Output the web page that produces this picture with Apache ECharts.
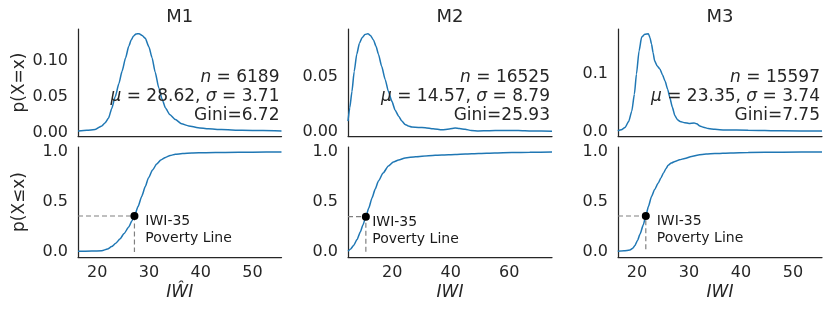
<!DOCTYPE html>
<html><head><meta charset="utf-8">
<script src="https://cdn.jsdelivr.net/npm/echarts@6/dist/echarts.min.js"></script>
<style>html,body{margin:0;padding:0;background:#fff}#c{width:830px;height:315px}</style>
</head><body><div id="c"></div>
<script>
// ---------- data ----------
const modelNames = ['M1', 'M2', 'M3'];
const xAxisNames = ['I\u0174I', 'IWI', 'IWI'];
const nValues = ['6189', '16525', '15597'];
const muValues = ['28.62', '14.57', '23.35'];
const sigmaValues = ['3.71', '8.79', '3.74'];
const giniValues = ['6.72', '25.93', '7.75'];

const m1PdfX = [16.3, 18, 19.6, 20.9, 21.5, 22.2, 22.8, 23.5, 24.2, 24.8, 25.5, 26.1, 26.6, 27.0, 27.5, 28.1, 28.7, 29.3, 30.0, 30.6, 31.2, 31.9, 32.5, 33.2, 34.0, 35.1, 36.3, 37.7, 39.5, 41.5, 44, 48, 52, 55.6];
const m1PdfY = [0.002, 0.003, 0.004, 0.009, 0.013, 0.020, 0.033, 0.050, 0.068, 0.085, 0.104, 0.120, 0.129, 0.134, 0.137, 0.1375, 0.135, 0.131, 0.119, 0.104, 0.084, 0.062, 0.047, 0.034, 0.025, 0.018, 0.012, 0.009, 0.0065, 0.005, 0.004, 0.003, 0.0025, 0.002];
const m1CdfX = [16.3, 19, 20.9, 22, 22.8, 23.6, 24.4, 25.2, 26.1, 26.7, 27.2, 27.9, 28.6, 29.3, 29.9, 30.7, 31.5, 32.3, 33.2, 34.1, 35.1, 36.5, 38.3, 41, 44.7, 50, 55.6];
const m1CdfY = [0.007, 0.009, 0.013, 0.03, 0.054, 0.088, 0.13, 0.185, 0.25, 0.31, 0.36, 0.455, 0.556, 0.655, 0.74, 0.82, 0.88, 0.92, 0.946, 0.965, 0.977, 0.985, 0.99, 0.993, 0.995, 0.998, 1.0];

const m2PdfX = [4.9, 5.5, 6.25, 7.0, 7.9, 8.8, 9.7, 10.7, 11.7, 12.6, 13.6, 14.5, 15.3, 16.4, 17.6, 18.7, 19.9, 21, 22.2, 23.3, 24.4, 25.5, 26.7, 29, 31.3, 34, 37, 39.5, 41.5, 43, 44.9, 47, 49.5, 53, 57.4, 63.1, 67.6, 74.6];
const m2PdfY = [0.010, 0.022, 0.037, 0.055, 0.071, 0.081, 0.086, 0.089, 0.0897, 0.088, 0.084, 0.078, 0.071, 0.060, 0.048, 0.037, 0.028, 0.020, 0.0145, 0.010, 0.007, 0.0055, 0.0045, 0.0042, 0.004, 0.003, 0.002, 0.0028, 0.0036, 0.0032, 0.0025, 0.0015, 0.001, 0.0012, 0.0015, 0.0015, 0.001, 0.0008];
const m2CdfX = [4.9, 5.8, 6.8, 8.0, 9.1, 10.0, 11.0, 12.0, 13.1, 14.2, 15.3, 16.9, 18.7, 20.4, 22.2, 24.4, 28, 32.4, 37, 41.5, 45, 49.5, 55, 60.9, 67, 74.6];
const m2CdfY = [0.007, 0.03, 0.064, 0.125, 0.2, 0.27, 0.353, 0.44, 0.54, 0.63, 0.71, 0.79, 0.86, 0.9, 0.92, 0.94, 0.953, 0.963, 0.97, 0.975, 0.98, 0.985, 0.99, 0.994, 0.997, 1.0];

const m3PdfX = [16.3, 17.0, 17.7, 18.4, 19.0, 19.5, 19.9, 20.4, 20.9, 21.5, 22.2, 22.5, 22.8, 23.1, 23.4, 23.9, 24.4, 24.9, 25.4, 25.9, 26.3, 26.8, 27.3, 27.8, 28.3, 29.2, 30.0, 31.0, 31.5, 32.1, 32.8, 33.7, 35, 36.9, 41.4, 47.8, 55.6];
const m3PdfY = [0.002, 0.004, 0.0076, 0.018, 0.036, 0.065, 0.1, 0.14, 0.164, 0.169, 0.170, 0.163, 0.152, 0.137, 0.123, 0.114, 0.109, 0.099, 0.088, 0.074, 0.060, 0.043, 0.028, 0.021, 0.018, 0.016, 0.0146, 0.0156, 0.014, 0.0104, 0.008, 0.006, 0.0045, 0.0035, 0.003, 0.002, 0.0015];
const m3CdfX = [16.3, 17.5, 18.65, 19.2, 19.6, 20.1, 20.6, 21.2, 21.7, 22.2, 22.8, 23.4, 24.1, 24.6, 25.1, 25.6, 26.0, 26.6, 27.3, 28.2, 29.2, 30.5, 31.8, 33.3, 35.0, 38, 41.4, 48, 55.6];
const m3CdfY = [0.007, 0.012, 0.02, 0.038, 0.064, 0.115, 0.18, 0.27, 0.36, 0.455, 0.556, 0.625, 0.69, 0.74, 0.79, 0.835, 0.868, 0.89, 0.905, 0.922, 0.936, 0.955, 0.97, 0.979, 0.985, 0.991, 0.995, 0.998, 1.0];

const povertyX = [27.2, 11.0, 21.7];
const povertyY = [0.36, 0.353, 0.36];
const povertyLabel = 'IWI-35\nPoverty Line';
const povertyTextShift = 2; // data units right of the point

const xRanges = [[16.3, 55.6], [4.9, 74.6], [16.35, 55.6]];
const pdfRanges = [[-0.005, 0.144], [-0.0036, 0.094], [-0.007, 0.178]];
const cdfRange = [-0.05, 1.05];

const xTicks = [[20, 30, 40, 50], [20, 40, 60], [20, 30, 40, 50]];
const pdfTicks = [[0, 0.05, 0.10], [0, 0.05], [0, 0.1]];
const pdfTickDecimals = [2, 2, 1];
const cdfTicks = [0, 0.5, 1.0];

// ---------- layout / style ----------
const pdfX = [m1PdfX, m2PdfX, m3PdfX], pdfY = [m1PdfY, m2PdfY, m3PdfY];
const cdfX = [m1CdfX, m2CdfX, m3CdfX], cdfY = [m1CdfY, m2CdfY, m3CdfY];
const colLeft = [78, 348, 618];
const colWidth = [203.5, 204, 204];
const FONT = 'DejaVu Sans';
const TXT = '#262626';
const BLUE = '#1f77b4';
const zip = (a, b) => a.map((v, i) => [v, b[i]]);

const grids = [], xAxes = [], yAxes = [], series = [], titles = [], graphics = [];
const axisLineStyle = { show: true, onZero: false, lineStyle: { color: TXT, width: 1.25 } };

for (let i = 0; i < 3; i++) grids.push({ left: colLeft[i], top: 29, width: colWidth[i], height: 107 });
for (let i = 0; i < 3; i++) grids.push({ left: colLeft[i], top: 147, width: colWidth[i], height: 110 });

for (let i = 0; i < 3; i++) {
  xAxes.push({ type: 'value', gridIndex: i, min: xRanges[i][0], max: xRanges[i][1],
    axisLine: axisLineStyle, axisTick: { show: false }, axisLabel: { show: false }, splitLine: { show: false } });
  yAxes.push({ type: 'value', gridIndex: i, min: pdfRanges[i][0], max: pdfRanges[i][1],
    axisLine: axisLineStyle, axisTick: { show: false }, splitLine: { show: false },
    axisLabel: { customValues: pdfTicks[i], margin: 10, fontFamily: FONT, fontSize: 16, color: TXT,
      formatter: (v => v.toFixed(pdfTickDecimals[i])) },
    name: i === 0 ? 'p(X=x)' : '', nameLocation: 'middle', nameGap: 50, nameRotate: 90,
    nameTextStyle: { fontFamily: FONT, fontSize: 17, color: TXT } });
}
for (let i = 0; i < 3; i++) {
  xAxes.push({ type: 'value', gridIndex: 3 + i, min: xRanges[i][0], max: xRanges[i][1],
    axisLine: axisLineStyle, axisTick: { show: false }, splitLine: { show: false },
    axisLabel: { customValues: xTicks[i], margin: 8, fontFamily: FONT, fontSize: 16, color: TXT },
    name: xAxisNames[i], nameLocation: 'middle', nameGap: 27,
    nameTextStyle: { fontFamily: FONT, fontSize: 17, fontStyle: 'italic', color: TXT } });
  yAxes.push({ type: 'value', gridIndex: 3 + i, min: cdfRange[0], max: cdfRange[1],
    axisLine: axisLineStyle, axisTick: { show: false }, splitLine: { show: false },
    axisLabel: { customValues: cdfTicks, margin: 10, fontFamily: FONT, fontSize: 16, color: TXT,
      formatter: v => v.toFixed(1) },
    name: i === 0 ? 'p(X\u2264x)' : '', nameLocation: 'middle', nameGap: 50, nameRotate: 90,
    nameTextStyle: { fontFamily: FONT, fontSize: 17, color: TXT } });
}

for (let i = 0; i < 3; i++) {
  series.push({ type: 'line', xAxisIndex: i, yAxisIndex: i, data: zip(pdfX[i], pdfY[i]),
    showSymbol: false, smooth: 0.2, smoothMonotone: 'x', lineStyle: { color: BLUE, width: 1.5 }, z: 3 });
  series.push({ type: 'line', xAxisIndex: 3 + i, yAxisIndex: 3 + i, data: zip(cdfX[i], cdfY[i]),
    showSymbol: false, smooth: 0.2, smoothMonotone: 'x', lineStyle: { color: BLUE, width: 1.5 }, z: 3 });
  series.push({ type: 'line', xAxisIndex: 3 + i, yAxisIndex: 3 + i,
    data: [[xRanges[i][0], povertyY[i]], [povertyX[i], povertyY[i]], [povertyX[i], 0]],
    showSymbol: false, lineStyle: { color: '#808080', width: 1.2, type: [5, 3] }, z: 2 });
  series.push({ type: 'scatter', xAxisIndex: 3 + i, yAxisIndex: 3 + i,
    data: [[povertyX[i], povertyY[i]]], symbolSize: 8, itemStyle: { color: '#000', opacity: 1 }, z: 5 });
  series.push({ type: 'scatter', xAxisIndex: 3 + i, yAxisIndex: 3 + i,
    data: [[povertyX[i] + povertyTextShift, povertyY[i]]], symbolSize: 1,
    itemStyle: { color: 'rgba(255,255,255,0)', opacity: 1 }, z: 6, emphasis: { disabled: true },
    label: { show: true, position: 'right', distance: 0, offset: [0, 14], formatter: povertyLabel,
      fontFamily: FONT, fontSize: 14, lineHeight: 16.5, color: '#1a1a1a', opacity: 1,
      textBorderWidth: 0 } });

  titles.push({ text: modelNames[i], left: colLeft[i] + colWidth[i] / 2, top: 8, textAlign: 'center', padding: 0,
    textStyle: { fontFamily: FONT, fontSize: 18, fontWeight: 'normal', color: TXT } });

  const it = { fontFamily: FONT, fontSize: 17, fontStyle: 'italic', fill: TXT, lineHeight: 19 };
  graphics.push({ type: 'text', x: colLeft[i] + colWidth[i] - 2, y: 68, z: 10,
    style: { text: '{i|n} = ' + nValues[i] + '\n{i|\u03bc} = ' + muValues[i] + ', {i|\u03c3} = ' + sigmaValues[i] + '\nGini=' + giniValues[i],
      align: 'right', verticalAlign: 'top', fontFamily: FONT, fontSize: 17, fill: TXT, lineHeight: 19,
      rich: { i: it } } });
}

const chart = echarts.init(document.getElementById('c'), null, { renderer: 'canvas' });
chart.setOption({
  animation: false,
  backgroundColor: '#fff',
  title: titles,
  grid: grids,
  xAxis: xAxes,
  yAxis: yAxes,
  series: series,
  graphic: graphics
});
</script>
</body></html>
